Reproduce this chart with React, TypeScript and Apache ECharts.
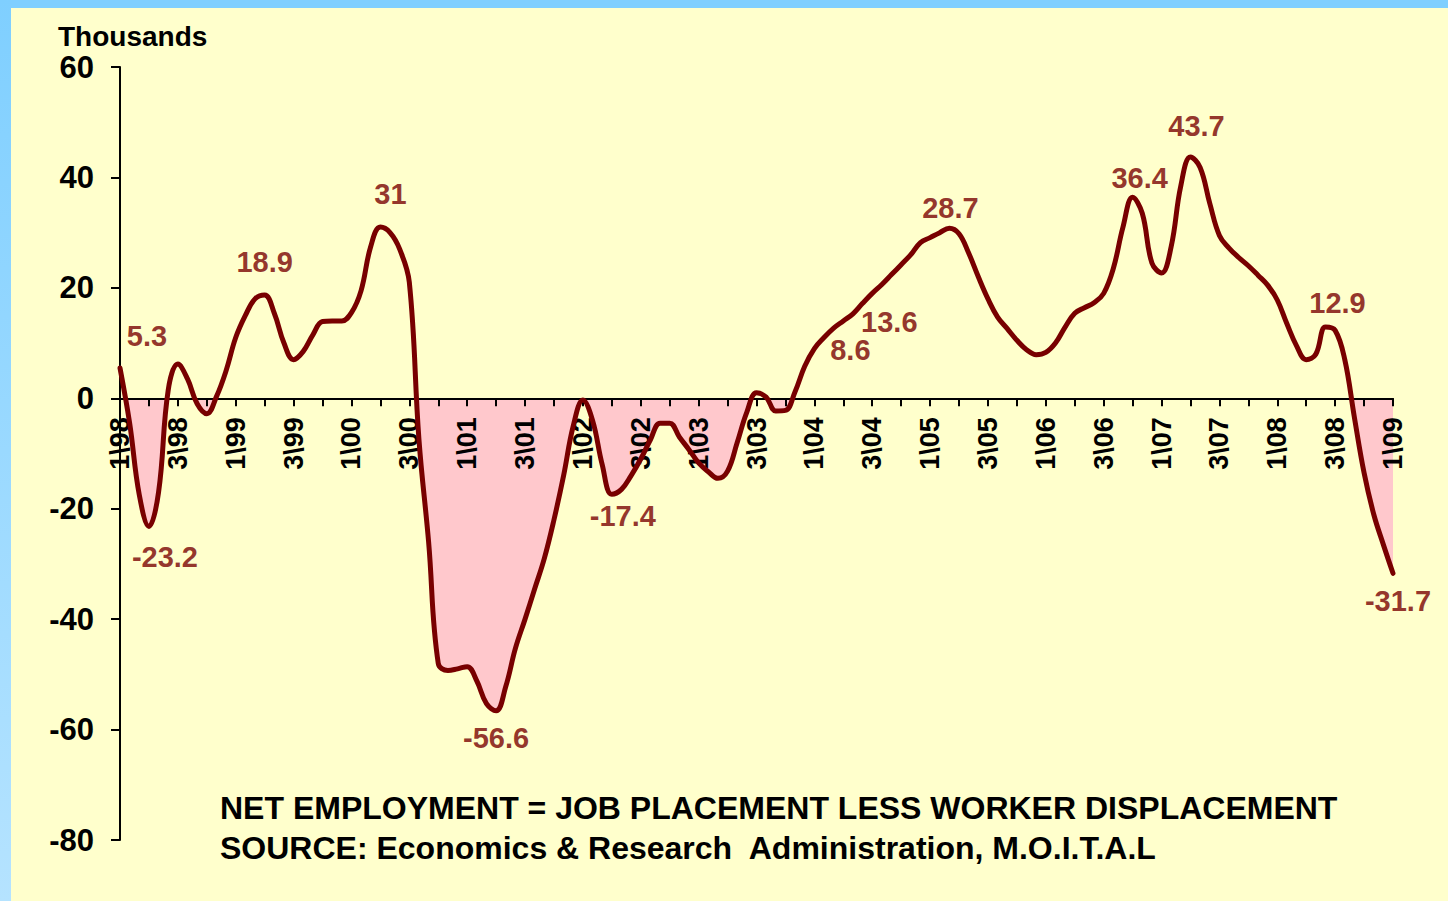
import React, { useEffect, useRef } from "react";
import * as echarts from "echarts";

const FONT = '"Liberation Sans", Arial, sans-serif';
const DARK_RED = "#780000";

// Monthly categories, Jan 1998 .. Jan 2009
const years = ["98", "99", "00", "01", "02", "03", "04", "05", "06", "07", "08", "09"];
const categories: string[] = [];
years.forEach((y, yi) => {
  const n = yi === years.length - 1 ? 1 : 12;
  for (let m = 1; m <= n; m++) categories.push(`${m}/${y}`);
});

// Axis tick labels (every half year: quarter 1 and quarter 3)
const tickLabels = [
  "1\\98", "3\\98", "1\\99", "3\\99", "1\\00", "3\\00", "1\\01", "3\\01",
  "1\\02", "3\\02", "1\\03", "3\\03", "1\\04", "3\\04", "1\\05", "3\\05",
  "1\\06", "3\\06", "1\\07", "3\\07", "1\\08", "3\\08", "1\\09",
];

// Net employment, thousands (monthly)
const netEmployment = [
  5.5, -4.5, -17.5, -23.2, -17, 1.5, 6.2, 3.5, -1, -2.8, 0.3, 5, // 1998
  11, 15, 18, 18.7, 15.4, 10, 7, 8.5, 11.5, 13.9, 14, 14, // 1999
  15.5, 19.5, 27.5, 31, 30, 27, 21, -7.5, -26, -48, -49.3, -49, // 2000
  -48.6, -51.2, -55.3, -56.6, -52.2, -45.3, -40, -34.5, -29, -22, -14, -5, // 2001
  -0.3, -4, -12, -17.4, -16.5, -14, -11, -7.5, -4.5, -4.5, -7, -9.3, // 2002
  -11.7, -13.3, -14.5, -13.2, -8, -2.5, 1, 0.2, -2.3, -2.2, 1.2, 5.8, // 2003
  9, 11, 12.7, 14, 15.3, 17.2, 19, 20.6, 22.4, 24.2, 26, 28.2, // 2004
  29.1, 30, 30.8, 29.8, 26.3, 22, 18, 14.7, 12.6, 10.5, 8.8, 7.9, // 2005
  8.3, 10, 12.9, 15.4, 16.4, 17.3, 19, 23.5, 31, 36.4, 33.5, 24.5, // 2006
  22.7, 27.5, 38.5, 43.7, 41.8, 35.3, 29.5, 27.2, 25.5, 24, 22.3, 20.5, // 2007
  17.8, 13.5, 9.5, 7, 8, 12.9, 12.3, 7, -3.5, -13.5, -21, -26.5, // 2008
  -31.7, // Jan 2009
];

// Annotated points: month index and printed value
const labelIndexes = [0, 3, 15, 27, 39, 51, 72, 75, 86, 105, 111, 125, 132];
const labelTexts = ["5.3", "-23.2", "18.9", "31", "-56.6", "-17.4", "8.6", "13.6", "28.7", "36.4", "43.7", "12.9", "-31.7"];
// label placement relative to the point (pixels)
const labelOffsets = [
  [27, -32], [16, 31], [0, -33], [10, -33], [0, 27], [11, 22], [36, 1],
  [46, 1], [1, -20], [7, -19], [6, -31], [12, -24], [5, 28],
];

const W = 1448;
const H = 901;
const GRID = { left: 120, right: 55, top: 67, bottom: 61 };
const Y_MIN = -80;
const Y_MAX = 60;

export default function App() {
  const ref = useRef<HTMLDivElement>(null);

  useEffect(() => {
    document.body.style.margin = "0";
    if (!ref.current) return;
    const chart = echarts.init(ref.current, null, { renderer: "svg" });

    const gridH = H - GRID.top - GRID.bottom;
    const zeroY = GRID.top + (gridH * Y_MAX) / (Y_MAX - Y_MIN);
    const gridBottomY = H - GRID.bottom;
    const stop = zeroY / H;
    const pink = "#FFC8CC";

    const areaGradient = {
      type: "linear",
      x: 0,
      y: 0,
      x2: 0,
      y2: H,
      global: true,
      colorStops: [
        { offset: 0, color: "rgba(255,200,204,0)" },
        { offset: stop, color: "rgba(255,200,204,0)" },
        { offset: stop, color: pink },
        { offset: 1, color: pink },
      ],
    };

    const labelData = labelIndexes.map((idx, k) => ({
      value: [idx, netEmployment[idx]],
      label: {
        show: true,
        position: "inside",
        offset: labelOffsets[k],
        formatter: labelTexts[k],
      },
    }));

    const axisLineStyle = { color: "#000", width: 2 };

    chart.setOption({
      animation: false,
      backgroundColor: "#FFFFCC",
      grid: { ...GRID, containLabel: false },
      xAxis: {
        type: "category",
        data: categories,
        boundaryGap: false,
        z: 2,
        offset: -(gridBottomY - zeroY),
        axisLine: { show: true, onZero: false, lineStyle: axisLineStyle },
        axisTick: {
          show: true,
          interval: (i: number) => i % 3 === 0,
          length: 8,
          lineStyle: axisLineStyle,
        },
        axisLabel: {
          interval: (i: number) => i % 6 === 0,
          formatter: (_v: string, i: number) => (i % 6 === 0 ? tickLabels[i / 6] : ""),
          rotate: 90,
          margin: 19,
          fontSize: 27,
          fontWeight: "bold",
          fontFamily: FONT,
          color: "#000",
        },
        splitLine: { show: false },
      },
      yAxis: {
        type: "value",
        min: Y_MIN,
        max: Y_MAX,
        interval: 20,
        axisLine: { show: true, lineStyle: axisLineStyle },
        axisTick: { show: true, length: 9, lineStyle: axisLineStyle },
        axisLabel: {
          fontSize: 31,
          fontWeight: "bold",
          fontFamily: FONT,
          color: "#000",
          margin: 26,
        },
        splitLine: { show: false },
      },
      series: [
        {
          type: "line",
          data: netEmployment,
          smooth: 0.4,
          symbol: "none",
          showSymbol: false,
          silent: true,
          z: 1,
          lineStyle: { width: 0, opacity: 0 },
          areaStyle: { color: areaGradient, opacity: 1 },
        },
        {
          type: "line",
          data: netEmployment,
          smooth: 0.4,
          symbol: "none",
          showSymbol: false,
          z: 3,
          lineStyle: { width: 5, color: DARK_RED, cap: "round", join: "round" },
        },
        {
          type: "scatter",
          data: labelData,
          symbolSize: 1,
          z: 4,
          itemStyle: { color: "rgba(0,0,0,0)" },
          label: {
            color: DARK_RED,
            fontSize: 29,
            fontWeight: "bold",
            fontFamily: FONT,
          },
        },
      ],
      graphic: [
        {
          type: "rect",
          left: 0,
          top: 0,
          shape: { width: W, height: 8 },
          style: { fill: "#7FCFFF" },
          z: 10,
        },
        {
          type: "rect",
          left: 0,
          top: 0,
          shape: { width: 11, height: H },
          style: {
            fill: {
              type: "linear",
              x: 0,
              y: 0,
              x2: 0,
              y2: 1,
              colorStops: [
                { offset: 0, color: "#7FCFFF" },
                { offset: 1, color: "#B5E3FF" },
              ],
            },
          },
          z: 10,
        },
        {
          type: "text",
          left: 58,
          top: 22,
          style: {
            text: "Thousands",
            fontSize: 28,
            fontWeight: "bold",
            fontFamily: FONT,
            fill: "#000",
          },
        },
        {
          type: "text",
          left: 220,
          top: 792,
          style: {
            text: "NET EMPLOYMENT = JOB PLACEMENT LESS WORKER DISPLACEMENT",
            fontSize: 32,
            fontWeight: "bold",
            fontFamily: FONT,
            fill: "#000",
          },
        },
        {
          type: "text",
          left: 220,
          top: 832,
          style: {
            text: "SOURCE: Economics & Research  Administration, M.O.I.T.A.L",
            fontSize: 32,
            fontWeight: "bold",
            fontFamily: FONT,
            fill: "#000",
          },
        },
      ],
    });

    return () => chart.dispose();
  }, []);

  return <div ref={ref} style={{ width: W, height: H }} />;
}
